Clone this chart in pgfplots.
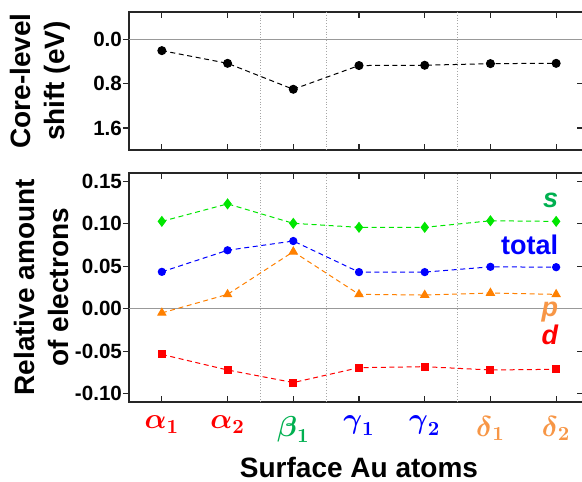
\documentclass[border=0pt]{standalone}
\usepackage{pgfplots}
\pgfplotsset{compat=1.18}
\usepackage{amsmath}
\usepackage[no-math]{fontspec}
\setmainfont{Liberation Sans}
\definecolor{cgreen}{RGB}{0,230,0}
\definecolor{lgreen}{RGB}{0,176,80}
\definecolor{corange}{RGB}{255,128,0}
\definecolor{lorange}{RGB}{247,150,70}
\definecolor{cred}{RGB}{255,0,0}
\definecolor{cblue}{RGB}{0,0,255}
\pgfplotsset{
  common/.style={
    scale only axis,
    width=230pt,
    xmin=-0.5, xmax=6.5,
    xtick={0,1,2,3,4,5,6},
    tick align=inside,
    major tick length=3pt,
    y tick style={xshift=-3pt},
    axis line style={line width=0.9pt, black!85},
    every tick/.style={line width=0.6pt, black!85},
    /pgf/number format/assume math mode=true,
    tick label style={font=\bfseries\fontsize{10.3}{12}\selectfont},
    label style={font=\bfseries\fontsize{14}{17}\selectfont, align=center},
    extra x ticks={1.5,2.5,4.5},
    extra x tick labels={},
    extra x tick style={grid=major, major tick length=0pt, major grid style={gray!70, densely dotted, line width=0.5pt}},
    extra y ticks={0},
    extra y tick labels={},
    extra y tick style={grid=major, major tick length=0pt, major grid style={gray!80, line width=0.5pt}},
  },
  ser/.style={line width=0.5pt, dash pattern=on 2.5pt off 1.8pt},
}
\begin{document}
\begin{tikzpicture}
\begin{axis}[common, name=top,
  height=69pt,
  y dir=reverse,
  ymin=-0.5, ymax=2.0,
  ytick={0,0.8,1.6},
  yticklabel style={/pgf/number format/.cd, fixed, fixed zerofill, precision=1},
  xticklabels={},
  ylabel={Core-level\\shift (eV)},
  ylabel style={at={(axis description cs:-0.1935,0.5)}, anchor=center},
]
\addplot[ser, black, mark=*, mark size=2pt, mark options={solid, fill=black}] coordinates {
(0,0.20) (1,0.43) (2,0.90) (3,0.47) (4,0.465) (5,0.435) (6,0.43)};
\end{axis}
\begin{axis}[common, name=bot,
  at={(top.south west)}, anchor=north west, yshift=-11.35pt,
  height=114.7pt,
  ymin=-0.11, ymax=0.16,
  ytick={-0.10,-0.05,0,0.05,0.10,0.15},
  yticklabel style={/pgf/number format/.cd, fixed, fixed zerofill, precision=2},
  xticklabels={
    \textcolor{cred}{$\boldsymbol{\alpha}_{\boldsymbol{1}}$},
    \textcolor{cred}{$\boldsymbol{\alpha}_{\boldsymbol{2}}$},
    \textcolor{lgreen}{$\boldsymbol{\beta}_{\boldsymbol{1}}$},
    \textcolor{cblue}{$\boldsymbol{\gamma}_{\boldsymbol{1}}$},
    \textcolor{cblue}{$\boldsymbol{\gamma}_{\boldsymbol{2}}$},
    \textcolor{lorange}{$\boldsymbol{\delta}_{\boldsymbol{1}}$},
    \textcolor{lorange}{$\boldsymbol{\delta}_{\boldsymbol{2}}$}},
  xticklabel style={font=\fontsize{14.5}{16}\selectfont, yshift=-3.5pt},
  ylabel={Relative amount\\of electrons},
  ylabel style={at={(axis description cs:-0.19,0.5)}, anchor=center},
  xlabel={Surface Au atoms},
  xlabel style={at={(axis description cs:0.5,-0.3275)}, anchor=base},
]
\addplot[ser, cgreen, mark=diamond*, mark size=2.4pt, mark options={solid, fill=cgreen}] coordinates {
(0,0.1027) (1,0.1233) (2,0.1004) (3,0.0957) (4,0.0957) (5,0.1034) (6,0.1027)};
\addplot[ser, cblue, mark=*, mark size=1.8pt, mark options={solid, fill=cblue}] coordinates {
(0,0.0433) (1,0.0687) (2,0.0796) (3,0.0430) (4,0.0430) (5,0.0492) (6,0.0488)};
\addplot[ser, corange, mark=triangle*, mark size=2.3pt, mark options={solid, fill=corange}] coordinates {
(0,-0.0050) (1,0.0168) (2,0.0670) (3,0.0168) (4,0.0160) (5,0.0184) (6,0.0168)};
\addplot[ser, cred, mark=square*, mark size=1.75pt, mark options={solid, fill=cred}] coordinates {
(0,-0.0539) (1,-0.0722) (2,-0.0870) (3,-0.0695) (4,-0.0683) (5,-0.0722) (6,-0.0714)};
\node[anchor=base east, inner sep=0pt, text=lgreen, font=\bfseries\itshape\fontsize{13.5}{15}\selectfont] at (axis cs:6.035,0.1194) {s};
\node[anchor=base east, inner sep=0pt, text=cblue, font=\bfseries\fontsize{13.5}{15}\selectfont] at (axis cs:6.035,0.0632) {total};
\node[anchor=base east, inner sep=0pt, text=lorange, font=\bfseries\itshape\fontsize{13.5}{15}\selectfont] at (axis cs:6.035,-0.0090) {p};
\node[anchor=base east, inner sep=0pt, text=cred, font=\bfseries\itshape\fontsize{13.5}{15}\selectfont] at (axis cs:6.035,-0.0420) {d};
\end{axis}
\pgfresetboundingbox
\path ([shift={(-64.5pt,6pt)}]top.north west) rectangle ([shift={(226.5pt,-234.5pt)}]top.north west);
\end{tikzpicture}
\end{document}
